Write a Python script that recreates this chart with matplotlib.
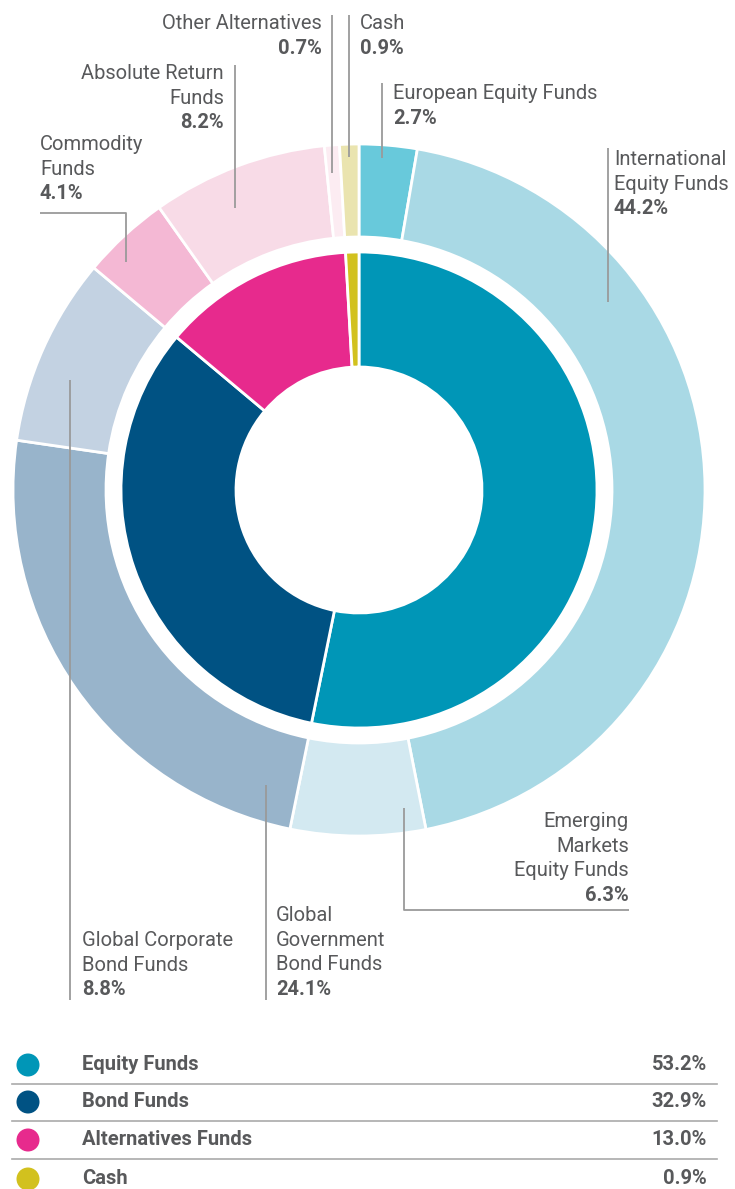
import matplotlib.pyplot as plt
from matplotlib.patches import Circle

plt.rcParams['font.family'] = ['Roboto', 'DejaVu Sans']

# inner ring: asset classes
inner_labels = ['Equity Funds', 'Bond Funds', 'Alternatives Funds', 'Cash']
inner_values = [53.2, 32.9, 13.0, 0.9]
inner_colors = ['#0096b7', '#005283', '#e72a8d', '#d2c11e']

# outer ring: sub categories, clockwise from 12 o'clock
outer_labels = ['European Equity Funds', 'International\nEquity Funds',
                'Emerging\nMarkets\nEquity Funds', 'Global\nGovernment\nBond Funds',
                'Global Corporate\nBond Funds', 'Commodity\nFunds',
                'Absolute Return\nFunds', 'Other Alternatives', 'Cash']
outer_values = [2.7, 44.2, 6.3, 24.1, 8.8, 4.1, 8.2, 0.7, 0.9]
outer_colors = ['#68c9db', '#a9d9e5', '#d3e9f1', '#98b4cb', '#c3d2e2',
                '#f4b8d4', '#f8dbe7', '#fcecf2', '#eae4af']

TXT = '#58595b'
LINE = '#9a9a9a'
FS = 14.5

fig = plt.figure(figsize=(7.35, 11.89), dpi=100)
ax = fig.add_axes([0, 0, 1, 1])

# axes in pixel units, y pointing down -> startangle -90 + counterclock draws clockwise from top
cx, cy = 359, 490
ax.pie(outer_values, colors=outer_colors, radius=346, center=(cx, cy),
       startangle=-90, counterclock=True,
       wedgeprops=dict(width=93, edgecolor='white', linewidth=2))
ax.pie(inner_values, colors=inner_colors, radius=238, center=(cx, cy),
       startangle=-90, counterclock=True,
       wedgeprops=dict(width=115, edgecolor='white', linewidth=2))
ax.set_xlim(0, 735)
ax.set_ylim(1189, 0)
ax.set_aspect('equal')
ax.axis('off')

# label placement: (x, first baseline, ha, leader line points)
label_pos = [
    (393, 99, 'left', [(382, 83), (382, 158)]),
    (614, 165, 'left', [(608, 148), (608, 302)]),
    (629, 827, 'right', [(404, 808), (404, 910), (629, 910)]),
    (276, 921, 'left', [(266, 785), (266, 1000)]),
    (82, 946, 'left', [(70, 380), (70, 1000)]),
    (40, 150, 'left', [(40, 213), (126, 213), (126, 262)]),
    (224, 79, 'right', [(235, 65), (235, 208)]),
    (322, 29, 'right', [(332, 15), (332, 173)]),
    (360, 29, 'left', [(349, 15), (349, 157)]),
]
step = 24.7
for lab, val, (x, y0, ha, pts) in zip(outer_labels, outer_values, label_pos):
    lines = lab.split('\n')
    for i, ln in enumerate(lines):
        ax.text(x, y0 + i * step, ln, ha=ha, va='baseline', fontsize=FS, color=TXT)
    ax.text(x, y0 + len(lines) * step, f'{val:.1f}%', ha=ha, va='baseline',
            fontsize=FS, fontweight='bold', color=TXT)
    xs, ys = zip(*pts)
    ax.plot(xs, ys, color=LINE, lw=1.3, solid_capstyle='butt')

# legend table
row_y = [1070, 1107, 1145, 1184]
for i, (lab, val, col) in enumerate(zip(inner_labels, inner_values, inner_colors)):
    y = row_y[i]
    ax.add_patch(Circle((28, y - 5), 11.5, color=col, lw=0))
    ax.text(82, y, lab, ha='left', va='baseline', fontsize=FS, fontweight='bold', color=TXT)
    ax.text(707, y, f'{val:.1f}%', ha='right', va='baseline', fontsize=FS,
            fontweight='bold', color=TXT)
    if i < len(inner_labels) - 1:
        ax.plot([12, 717], [y + 14, y + 14], color='#aaaaaa', lw=1.2)

fig.savefig('out.png', dpi=100, facecolor='white')
